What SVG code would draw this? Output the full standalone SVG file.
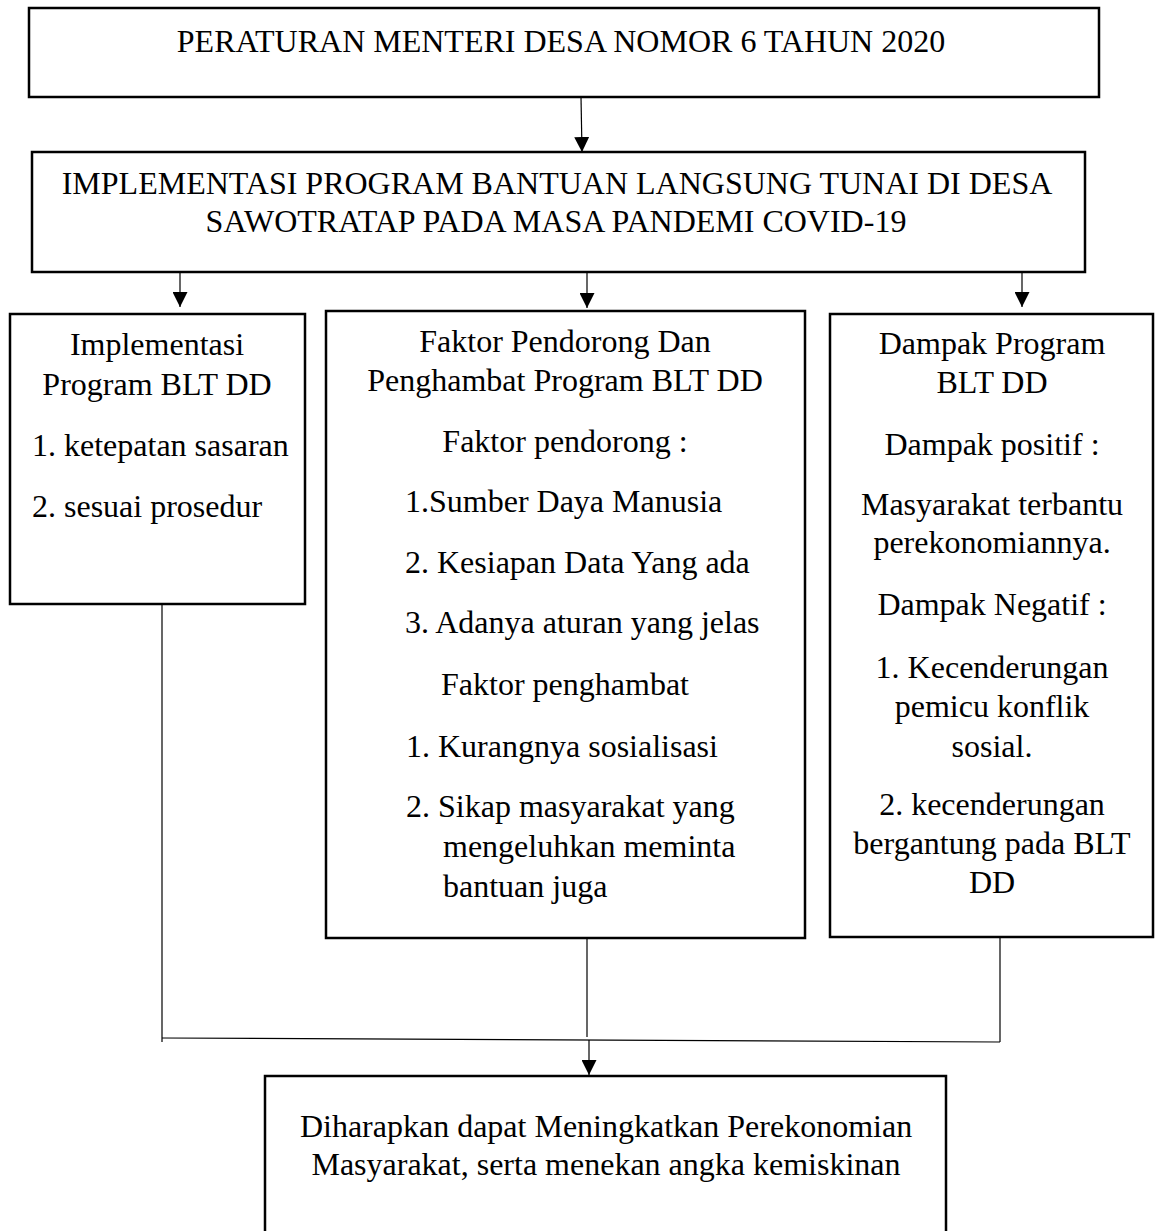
<svg xmlns="http://www.w3.org/2000/svg" width="1157" height="1231" viewBox="0 0 1157 1231">
<style>
.box{fill:#fff;stroke:#000;stroke-width:2.5}
.t{font-family:"Liberation Serif","Times New Roman",serif;font-size:32px;fill:#000}
.c{text-anchor:middle}
.ln{fill:none;stroke:#000;stroke-width:1.2}
</style>
<defs>
<marker id="ah" markerUnits="userSpaceOnUse" markerWidth="15" markerHeight="15" refX="15" refY="7.5" orient="auto">
<path d="M0,0 L15,7.5 L0,15 z" fill="#000"/>
</marker>
</defs>
<rect width="1157" height="1231" fill="#fff"/>
<g id="n-peraturan">
<rect class="box" x="29" y="8" width="1070" height="89"/>
<text class="t c" x="561" y="52">PERATURAN MENTERI DESA NOMOR 6 TAHUN 2020</text>
</g>
<g id="n-implementasi-program">
<rect class="box" x="32" y="152" width="1053" height="120"/>
<text class="t c" x="557" y="194">IMPLEMENTASI PROGRAM BANTUAN LANGSUNG TUNAI DI DESA</text>
<text class="t c" x="556" y="232">SAWOTRATAP PADA MASA PANDEMI COVID-19</text>
</g>
<g id="n-implementasi-blt">
<rect class="box" x="10" y="314" width="295" height="290"/>
<text class="t c" x="157" y="355">Implementasi</text>
<text class="t c" x="157" y="395">Program BLT DD</text>
<text class="t" x="32" y="456">1. ketepatan sasaran</text>
<text class="t" x="32" y="517">2. sesuai prosedur</text>
</g>
<g id="n-faktor">
<rect class="box" x="326" y="311" width="479" height="627"/>
<text class="t c" x="565" y="352">Faktor Pendorong Dan</text>
<text class="t c" x="565" y="391">Penghambat Program BLT DD</text>
<text class="t c" x="565" y="452">Faktor pendorong :</text>
<text class="t" x="405" y="512">1.Sumber Daya Manusia</text>
<text class="t" x="405" y="573">2. Kesiapan Data Yang ada</text>
<text class="t" x="405" y="633">3. Adanya aturan yang jelas</text>
<text class="t c" x="565" y="695">Faktor penghambat</text>
<text class="t" x="406" y="757">1. Kurangnya sosialisasi</text>
<text class="t" x="406" y="817">2. Sikap masyarakat yang</text>
<text class="t" x="443" y="857">mengeluhkan meminta</text>
<text class="t" x="443" y="897">bantuan juga</text>
</g>
<g id="n-dampak">
<rect class="box" x="830" y="314" width="323" height="623"/>
<text class="t c" x="992" y="354">Dampak Program</text>
<text class="t c" x="992" y="393">BLT DD</text>
<text class="t c" x="992" y="455">Dampak positif :</text>
<text class="t c" x="992" y="515">Masyarakat terbantu</text>
<text class="t c" x="992" y="553">perekonomiannya.</text>
<text class="t c" x="992" y="615">Dampak Negatif :</text>
<text class="t c" x="992" y="678">1. Kecenderungan</text>
<text class="t c" x="992" y="717">pemicu konflik</text>
<text class="t c" x="992" y="757">sosial.</text>
<text class="t c" x="992" y="815">2. kecenderungan</text>
<text class="t c" x="992" y="854">bergantung pada BLT</text>
<text class="t c" x="992" y="893">DD</text>
</g>
<g id="n-harapan">
<rect class="box" x="265" y="1076" width="681" height="180"/>
<text class="t c" x="606" y="1137">Diharapkan dapat Meningkatkan Perekonomian</text>
<text class="t c" x="606" y="1175">Masyarakat, serta menekan angka kemiskinan</text>
</g>
<g id="connectors">
<line class="ln" x1="581" y1="97" x2="582" y2="152" marker-end="url(#ah)"/>
<line class="ln" x1="180" y1="272" x2="180" y2="307" marker-end="url(#ah)"/>
<line class="ln" x1="587" y1="272" x2="587" y2="308" marker-end="url(#ah)"/>
<line class="ln" x1="1022" y1="272" x2="1022" y2="307" marker-end="url(#ah)"/>
<line class="ln" x1="162" y1="604" x2="162" y2="1042"/>
<line class="ln" x1="587" y1="938" x2="587" y2="1037"/>
<line class="ln" x1="1000" y1="937" x2="1000" y2="1042"/>
<line class="ln" x1="162" y1="1038" x2="1000" y2="1042"/>
<line class="ln" x1="589" y1="1040" x2="589" y2="1075" marker-end="url(#ah)"/>
</g>
</svg>
